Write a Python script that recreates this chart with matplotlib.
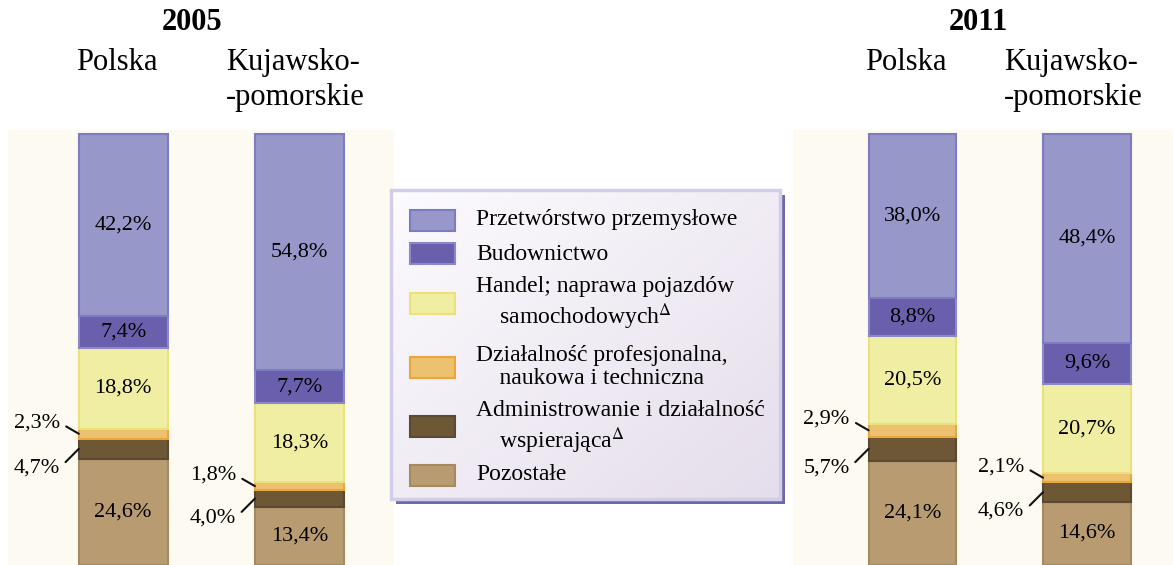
import matplotlib.pyplot as plt
import numpy as np
from matplotlib.patches import Rectangle

plt.rcParams['font.family'] = ['Liberation Serif', 'DejaVu Serif']
plt.rcParams['mathtext.fontset'] = 'stix'

# data, top of the bar first (same order as the legend)
categories = ['Przetwórstwo przemysłowe', 'Budownictwo',
              'Handel; naprawa pojazdów\n    samochodowych$^{\\Delta}$',
              'Działalność profesjonalna,\n    naukowa i techniczna',
              'Administrowanie i działalność\n    wspierająca$^{\\Delta}$',
              'Pozostałe']
regions = ['Polska', 'Kujawsko-\n-pomorskie']
years = ['2005', '2011']
pl_2005 = [42.2, 7.4, 18.8, 2.3, 4.7, 24.6]
kp_2005 = [54.8, 7.7, 18.3, 1.8, 4.0, 13.4]
pl_2011 = [38.0, 8.8, 20.5, 2.9, 5.7, 24.1]
kp_2011 = [48.4, 9.6, 20.7, 2.1, 4.6, 14.6]

fills = ['#9897ca', '#6a5fac', '#f0eea2', '#ecc16f', '#6e5735', '#b99b72']
edges = ['#7e7cc0', '#8a88c8', '#ebe07c', '#e8a63c', '#5a4a35', '#a48a60']

W, H = 1173, 565
fig = plt.figure(figsize=(W / 100, H / 100), dpi=100)
fig.patch.set_facecolor('white')


def px_box(x0, y0, x1, y1):
    return [x0 / W, 1 - y1 / H, (x1 - x0) / W, (y1 - y0) / H]


def panel(box, xlim, series):
    ax = fig.add_axes(box)
    ax.set_facecolor('#fdfaf2')
    ax.set_xlim(*xlim)
    ax.set_ylim(0, 100.93)
    for s in ax.spines.values():
        s.set_visible(False)
    ax.set_xticks([])
    ax.set_yticks([])
    w = 0.504
    for i, vals in enumerate(series):
        bottom = 0
        for k in range(len(vals) - 1, -1, -1):
            v = vals[k]
            ax.bar(i, v, width=w, bottom=bottom, color=fills[k],
                   edgecolor=edges[k], linewidth=1.5)
            mid = bottom + v / 2
            lab = f'{v:.1f}%'.replace('.', ',')
            if k < 3 or k == 5:
                ax.text(i, mid, lab, ha='center', va='center', fontsize=16)
            else:
                dy = 11 if k == 3 else -19
                ax.annotate(lab, xy=(i - w / 2, mid), xytext=(-19, dy),
                            textcoords='offset pixels', ha='right',
                            va='center', fontsize=16,
                            arrowprops=dict(arrowstyle='-', lw=1.5,
                                            color='#111111', shrinkA=3,
                                            shrinkB=0, relpos=(1, 0.5)))
            bottom += v
    return ax


panel(px_box(8, 130, 394, 565), (-0.654, 1.538), [pl_2005, kp_2005])
panel(px_box(793, 130, 1173, 565), (-0.685, 1.493), [pl_2011, kp_2011])


def ftext(x, y, s, **kw):
    fig.text(x / W, 1 - y / H, s, **kw)


for yr, xc, xp, xk in [(years[0], 192, 76, 226), (years[1], 978, 865, 1004)]:
    ftext(xc, 22, yr, ha='center', va='center', fontsize=22, fontweight='bold')
    ftext(xp, 70, regions[0], ha='left', va='baseline', fontsize=22)
    l1, l2 = regions[1].split('\n')
    ftext(xk, 70, l1, ha='left', va='baseline', fontsize=22)
    ftext(xk, 105, l2, ha='left', va='baseline', fontsize=22)

# legend box drawn in pixel units
lx0, ly0, lx1, ly1 = 385, 185, 792, 510
lg = fig.add_axes(px_box(lx0, ly0, lx1, ly1))
lg.set_xlim(lx0, lx1)
lg.set_ylim(ly1, ly0)
lg.axis('off')
bx0, by0, bx1, by1 = 391, 190, 780, 499
lg.add_patch(Rectangle((bx0 + 5, by0 + 5), bx1 - bx0, by1 - by0,
                       facecolor='#6b69a9', edgecolor='none', zorder=1))
gx, gy = np.meshgrid(np.linspace(0, 1, 200), np.linspace(0, 1, 200))
t = (gx + gy) / 2
c0 = np.array([0xfc, 0xfb, 0xfe]) / 255
c1 = np.array([0xe5, 0xdd, 0xeb]) / 255
grad = c0[None, None, :] * (1 - t[..., None]) + c1[None, None, :] * t[..., None]
lg.imshow(grad, extent=(bx0, bx1, by1, by0), aspect='auto', zorder=2)
lg.add_patch(Rectangle((bx0, by0), bx1 - bx0, by1 - by0, facecolor='none',
                       edgecolor='#d2cee8', linewidth=2.5, zorder=3))
lg.set_xlim(lx0, lx1)
lg.set_ylim(ly1, ly0)

patch_y = [220, 253, 303, 367, 426, 475]
text_y = [219, 254, 304, 367, 428, 474]
for k, cat in enumerate(categories):
    lg.add_patch(Rectangle((410, patch_y[k] - 10), 45, 21, facecolor=fills[k],
                           edgecolor=edges[k], linewidth=1.5, zorder=4))
    lg.text(476, text_y[k], cat, ha='left', va='center', fontsize=17,
            linespacing=1.15, zorder=5)

fig.savefig('out.png', dpi=100)
